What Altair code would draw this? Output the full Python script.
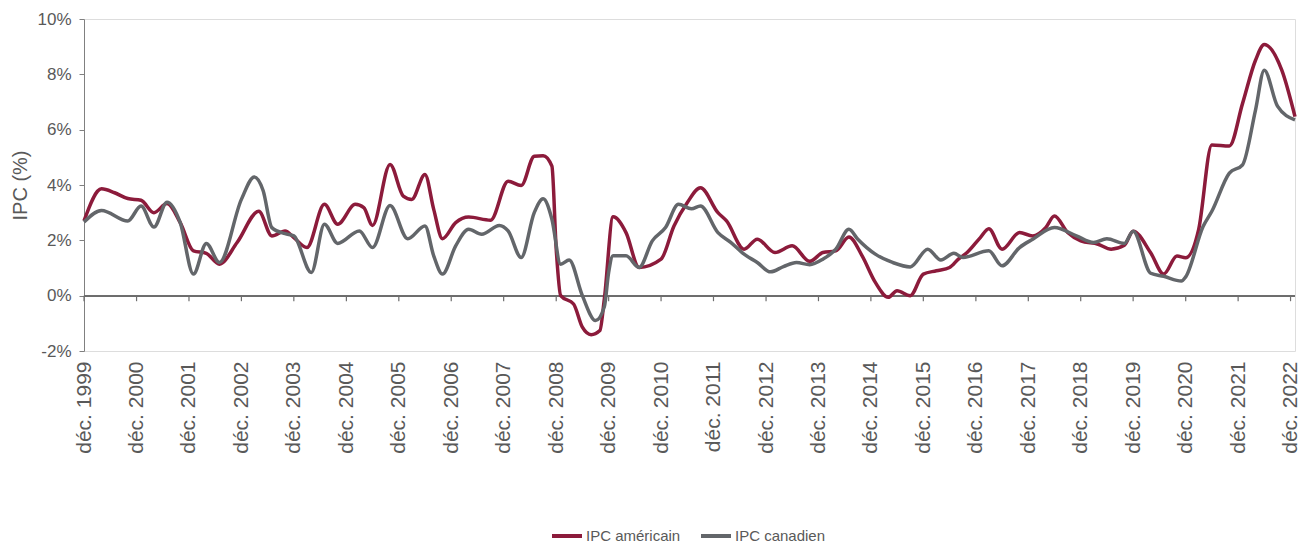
import altair as alt
import pandas as pd

us_dates = ["1999-12","2000-04","2000-07","2000-10","2001-01","2001-04","2001-07","2001-10","2002-01","2002-04",
            "2002-07","2002-11","2003-04","2003-07","2003-10","2003-12","2004-03","2004-07","2004-10","2005-02",
            "2005-04","2005-06","2005-10","2006-01","2006-03","2006-06","2006-08","2006-10","2007-01","2007-04",
            "2007-09","2008-01","2008-04","2008-07","2008-09","2008-11","2008-12","2009-01","2009-04","2009-06",
            "2009-08","2009-10","2009-11","2010-01","2010-04","2010-07","2010-12","2011-03","2011-06","2011-09",
            "2012-01","2012-03","2012-07","2012-10","2013-02","2013-06","2013-10","2014-01","2014-04","2014-07",
            "2014-10","2015-01","2015-04","2015-06","2015-09","2015-12","2016-03","2016-06","2016-08","2016-10",
            "2017-01","2017-03","2017-06","2017-10","2018-01","2018-04","2018-06","2018-09","2018-12","2019-04",
            "2019-07","2019-10","2019-12","2020-04","2020-07","2020-10","2020-12","2021-03","2021-06","2021-10",
            "2022-01","2022-04","2022-06","2022-10","2023-01"]
us_values = [2.70,3.86,3.72,3.51,3.45,3.00,3.33,2.64,1.62,1.53,
             1.14,1.92,3.05,2.16,2.34,2.10,1.74,3.30,2.58,3.30,
             3.18,2.54,4.74,3.60,3.48,4.38,3.12,2.06,2.64,2.84,
             2.73,4.14,3.98,5.04,5.06,4.68,1.68,0.00,-0.30,-1.14,
             -1.41,-1.26,-0.12,2.85,2.28,1.02,1.32,2.52,3.36,3.90,
             3.00,2.70,1.68,2.04,1.56,1.80,1.24,1.56,1.62,2.12,
             1.44,0.48,-0.06,0.18,0.00,0.78,0.90,1.02,1.32,1.56,
             2.10,2.42,1.68,2.28,2.16,2.46,2.88,2.28,1.98,1.86,
             1.68,1.82,2.33,1.55,0.78,1.43,1.37,2.39,5.45,5.41,
             6.95,8.51,9.08,8.15,6.47]

ca_dates = ["1999-12","2000-04","2000-10","2001-01","2001-04","2001-07","2001-10","2002-01","2002-04","2002-07",
            "2002-12","2003-03","2003-05","2003-07","2003-10","2003-12","2004-04","2004-07","2004-10","2005-03",
            "2005-06","2005-10","2006-02","2006-06","2006-08","2006-10","2007-01","2007-04","2007-07","2007-11",
            "2008-01","2008-04","2008-07","2008-09","2008-11","2009-01","2009-03","2009-06","2009-09","2009-11",
            "2009-12","2010-01","2010-04","2010-07","2010-10","2011-01","2011-04","2011-07","2011-09","2012-01",
            "2012-04","2012-07","2012-10","2013-01","2013-04","2013-07","2013-10","2014-01","2014-04","2014-07",
            "2014-09","2015-01","2015-05","2015-09","2016-01","2016-04","2016-07","2016-09","2017-03","2017-06",
            "2017-10","2018-01","2018-06","2018-11","2019-03","2019-06","2019-10","2019-12","2020-04","2020-07",
            "2020-11","2020-12","2021-04","2021-06","2021-10","2022-01","2022-04","2022-06","2022-09","2023-01"]
ca_values = [2.66,3.08,2.70,3.24,2.48,3.38,2.64,0.78,1.89,1.20,
             3.48,4.29,3.80,2.46,2.24,2.16,0.84,2.58,1.89,2.34,
             1.74,3.26,2.06,2.52,1.44,0.78,1.80,2.40,2.22,2.54,
             2.34,1.38,3.00,3.50,2.76,1.14,1.29,0.00,-0.90,-0.40,
             0.84,1.44,1.44,1.02,1.98,2.46,3.30,3.14,3.24,2.28,
             1.92,1.50,1.20,0.86,1.05,1.20,1.12,1.32,1.68,2.40,
             2.04,1.50,1.20,1.04,1.68,1.29,1.53,1.38,1.62,1.08,
             1.74,2.04,2.46,2.16,1.92,2.06,1.89,2.33,0.81,0.70,
             0.53,0.68,2.50,3.05,4.43,4.73,6.71,8.15,6.85,6.35]

series_names = ["IPC américain", "IPC canadien"]
series_colors = ["#8C1B3B", "#63666A"]
tick_years = list(range(1999, 2023))
y_ticks = [-2, 0, 2, 4, 6, 8, 10]

rows = []
for d, v in zip(us_dates, us_values):
    rows.append({"date": d + "-01", "value": v, "serie": series_names[0], "ord": 0})
for d, v in zip(ca_dates, ca_values):
    rows.append({"date": d + "-01", "value": v, "serie": series_names[1], "ord": 1})
df = pd.DataFrame(rows)
ticks_df = pd.DataFrame({"date": [f"{y}-12-01" for y in tick_years]})

FONT = "Liberation Sans"
TXT = "#595959"

x_scale = alt.Scale(type="utc",
                    domain=[alt.DateTime(year=1999, month=12, date=1, utc=True),
                            alt.DateTime(year=2023, month=1, date=1, utc=True)])
y_scale = alt.Scale(domain=[-2, 10], nice=False, zero=False)

x_axis = alt.Axis(values=[alt.DateTime(year=y, month=12, date=1, utc=True) for y in tick_years],
                  labelExpr="'déc. ' + utcFormat(datum.value, '%Y')",
                  labelAngle=-90, labelAlign="right", labelBaseline="middle",
                  labelFontSize=21, labelColor=TXT, labelFont=FONT, labelPadding=10,
                  domain=False, ticks=False, grid=False, title=None, labelOverlap=False)
y_axis = alt.Axis(values=y_ticks, labelExpr="datum.value + '%'",
                  labelFontSize=17, labelColor=TXT, labelFont=FONT, labelPadding=8,
                  tickSize=5, tickColor="#808080", domainColor="#808080", grid=False,
                  title="IPC (%)", titleFont=FONT, titleFontSize=20, titleFontWeight="normal",
                  titleColor=TXT, titlePadding=6)

lines = alt.Chart(df).mark_line(interpolate="monotone", strokeWidth=3.5).encode(
    x=alt.X("date:T", scale=x_scale, axis=x_axis),
    y=alt.Y("value:Q", scale=y_scale, axis=y_axis),
    color=alt.Color("serie:N", scale=alt.Scale(domain=series_names, range=series_colors),
                    legend=alt.Legend(title=None, orient="none", direction="horizontal",
                                      legendX=466, legendY=500, symbolType="stroke",
                                      symbolStrokeWidth=4, symbolSize=900, labelFont=FONT,
                                      labelFontSize=15, labelColor=TXT, labelOffset=2,
                                      columnPadding=12)),
    order=alt.Order("ord:Q"),
    detail="serie:N",
)

zero_line = alt.Chart(ticks_df).mark_rule(color="#6E6E6E", strokeWidth=1.2).encode(
    y=alt.datum(0), x=alt.value(0), x2=alt.value(1211))

tick_marks = alt.Chart(ticks_df).mark_rule(color="#6E6E6E", strokeWidth=1.2).encode(
    x=alt.X("date:T", scale=x_scale),
    y=alt.datum(0), y2=alt.datum(-0.2))

chart = alt.layer(zero_line, tick_marks, lines).properties(
    width=1211, height=332,
    autosize=alt.AutoSizeParams(type="none"),
    padding={"left": 76, "top": 11, "right": 10, "bottom": 194},
).configure_view(stroke=None).configure(background="white")

chart.save("out.html", embed_options={"renderer": "svg", "actions": False})
